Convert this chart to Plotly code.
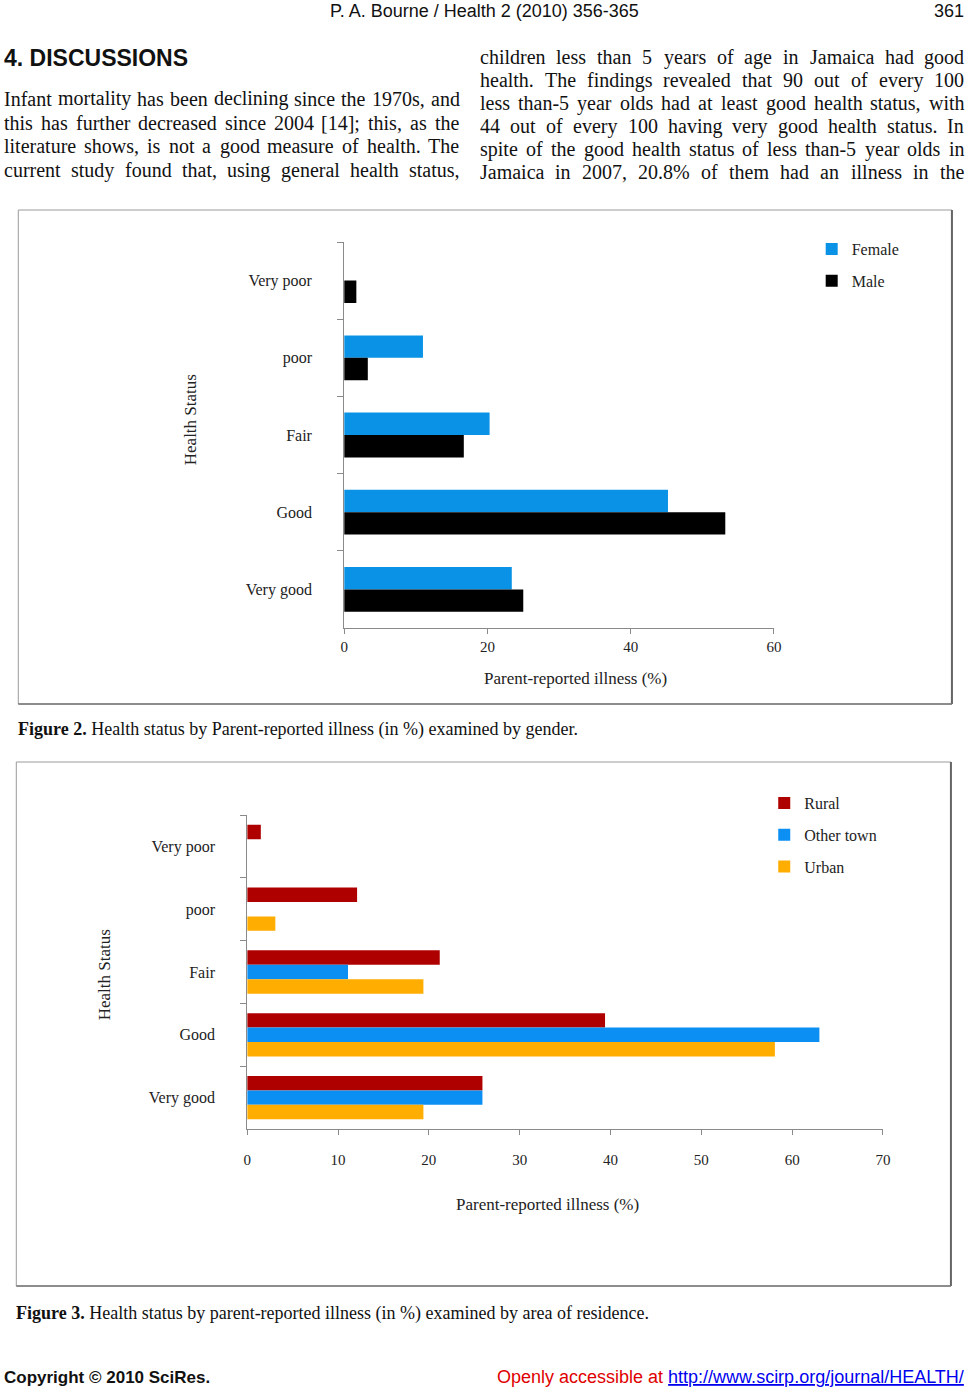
import plotly.graph_objects as go

W, H = 966, 1388

# ---------------- data ----------------
status = ["Very poor", "poor", "Fair", "Good", "Very good"]

female = [0, 11.0, 20.3, 45.2, 23.4]
male = [1.7, 3.3, 16.7, 53.2, 25.0]

rural = [1.5, 12.1, 21.2, 39.4, 25.9]
other_town = [0, 0, 11.1, 63.0, 25.9]
urban = [0, 3.1, 19.4, 58.1, 19.4]

x1_ticks = [0, 20, 40, 60]
x2_ticks = [0, 10, 20, 30, 40, 50, 60, 70]

left_lines = [
    "Infant mortality has been declining since the 1970s, and",
    "this has further decreased since 2004 [14]; this, as the",
    "literature shows, is not a good measure of health. The",
    "current study found that, using general health status,",
]
right_lines = [
    "children less than 5 years of age in Jamaica had good",
    "health. The findings revealed that 90 out of every 100",
    "less than-5 year olds had at least good health status, with",
    "44 out of every 100 having very good health status. In",
    "spite of the good health status of less than-5 year olds in",
    "Jamaica in 2007, 20.8% of them had an illness in the",
]

# ---------------- helpers ----------------
def X(x):
    # page pixel -> layout pixel (compensates the observed horizontal rendering shift)
    return (x - 2.7) / 0.989

def px(x):
    return X(x) / W

def py(y):
    return 1 - y / H

SERIF = "Liberation Serif, Times New Roman, serif"
NARROW = "Liberation Sans Narrow, Arial Narrow, Liberation Sans, Arial, sans-serif"

BLUE = "#0A93E6"
BLUE2 = "#0C8FF2"
BLACK = "#000000"
RED = "#AF0000"
GOLD = "#FFAD00"

# Times-compatible advance widths (per 1000 em) used to justify body text
_TW = {" ": 250, "%": 833, "(": 333, ")": 333, ",": 250, "-": 333, ".": 250,
       ";": 278, ":": 278, "[": 333, "]": 333,
       "I": 333, "J": 389, "T": 611, "H": 722,
       "a": 444, "b": 500, "c": 444, "d": 500, "e": 444, "f": 333, "g": 500,
       "h": 500, "i": 278, "j": 278, "k": 500, "l": 278, "m": 778, "n": 500,
       "o": 500, "p": 500, "q": 500, "r": 333, "s": 389, "t": 278, "u": 500,
       "v": 500, "w": 722, "x": 500, "y": 500, "z": 444}

def word_width(w, size):
    return sum(_TW.get(c, 500) for c in w) * size / 1000.0

fig = go.Figure()

# Figure 2 bars (gender)
fig.add_trace(go.Bar(y=status, x=female, orientation="h", name="Female",
                     marker=dict(color=BLUE, line=dict(width=0)),
                     width=0.29, offset=-0.29, xaxis="x", yaxis="y",
                     legend="legend", legendgroup="f"))
fig.add_trace(go.Bar(y=status, x=male, orientation="h", name="Male",
                     marker=dict(color=BLACK, line=dict(width=0)),
                     width=0.29, offset=0.0, xaxis="x", yaxis="y",
                     legend="legend", legendgroup="m"))

# Figure 3 bars (area of residence)
fig.add_trace(go.Bar(y=status, x=rural, orientation="h", name="Rural",
                     marker=dict(color=RED, line=dict(width=0)),
                     width=0.23, offset=-0.345, xaxis="x2", yaxis="y2",
                     legend="legend2", legendgroup="r"))
fig.add_trace(go.Bar(y=status, x=other_town, orientation="h", name="Other town",
                     marker=dict(color=BLUE2, line=dict(width=0)),
                     width=0.23, offset=-0.115, xaxis="x2", yaxis="y2",
                     legend="legend2", legendgroup="o"))
fig.add_trace(go.Bar(y=status, x=urban, orientation="h", name="Urban",
                     marker=dict(color=GOLD, line=dict(width=0)),
                     width=0.23, offset=0.115, xaxis="x2", yaxis="y2",
                     legend="legend2", legendgroup="u"))

xtick_font = dict(family=SERIF, size=15, color="#222")
ytick_font = dict(family=SERIF, size=16, color="#222")
AX = "#8a8a8a"

fig.update_layout(
    width=W, height=H, autosize=False,
    margin=dict(l=0, r=0, t=0, b=0),
    paper_bgcolor="white", plot_bgcolor="rgba(0,0,0,0)",
    barmode="overlay",
    showlegend=True,
    xaxis=dict(domain=[px(343), px(773)], range=[0, 60], anchor="y",
               tickvals=x1_ticks, ticks="outside", ticklen=5, tickcolor=AX,
               showline=True, linecolor=AX, linewidth=1, showgrid=False,
               zeroline=False, tickfont=xtick_font, ticklabelstandoff=0,
               fixedrange=True),
    yaxis=dict(domain=[py(628), py(242)], anchor="x", type="category",
               categoryorder="array", categoryarray=status,
               autorange="reversed", ticks="outside", tickson="boundaries",
               ticklen=6, tickcolor=AX, showline=True, linecolor=AX,
               linewidth=1, showgrid=False, zeroline=False,
               tickfont=ytick_font, ticklabelstandoff=28),
    xaxis2=dict(domain=[px(246), px(882)], range=[0, 70], anchor="y2",
                tickvals=x2_ticks, ticks="outside", ticklen=5, tickcolor=AX,
                showline=True, linecolor=AX, linewidth=1, showgrid=False,
                zeroline=False, tickfont=xtick_font, ticklabelstandoff=12),
    yaxis2=dict(domain=[py(1129), py(815)], anchor="x2", type="category",
                categoryorder="array", categoryarray=status,
                autorange="reversed", ticks="outside", tickson="boundaries",
                ticklen=6, tickcolor=AX, showline=True, linecolor=AX,
                linewidth=1, showgrid=False, zeroline=False,
                tickfont=ytick_font, ticklabelstandoff=28),
    legend=dict(x=817 / W, y=py(232), xanchor="left", yanchor="top",
                bgcolor="rgba(0,0,0,0)", traceorder="grouped",
                tracegroupgap=8, font=dict(family=SERIF, size=16, color="#222"),
                itemclick=False),
    legend2=dict(x=769 / W, y=py(786), xanchor="left", yanchor="top",
                 bgcolor="rgba(0,0,0,0)", traceorder="grouped",
                 tracegroupgap=8, font=dict(family=SERIF, size=16, color="#222"),
                 itemclick=False),
)

# Frames around the figures
shapes = []
for (l, t, r, b) in [(17, 210, 951, 704), (15, 762, 950, 1286)]:
    shapes.append(dict(type="rect", xref="paper", yref="paper",
                       x0=px(l), x1=px(r), y0=py(b), y1=py(t),
                       line=dict(color="#9a9a9a", width=1)))
    shapes.append(dict(type="line", xref="paper", yref="paper",
                       x0=px(r), x1=px(r), y0=py(b), y1=py(t),
                       line=dict(color="#666", width=2)))
    shapes.append(dict(type="line", xref="paper", yref="paper",
                       x0=px(l), x1=px(r), y0=py(b), y1=py(b),
                       line=dict(color="#777", width=1.5)))
fig.update_layout(shapes=shapes)

ann = []
PAD = 3

def text(x, y, s, size, family, color="#111", xanchor="left", angle=0):
    xx = X(x)
    if xanchor == "left":
        xx -= PAD
    elif xanchor == "right":
        xx += PAD
    ann.append(dict(xref="paper", yref="paper", x=xx / W, y=py(y), text=s,
                    showarrow=False, xanchor=xanchor, yanchor="middle",
                    textangle=angle,
                    font=dict(size=size, family=family, color=color)))

def justified(x0, x1, y, line, size):
    words = line.split(" ")
    L, R = X(x0), X(x1)
    widths = [word_width(w, size) for w in words]
    gap = (R - L - sum(widths)) / max(len(words) - 1, 1)
    pos = L
    for w, wd in zip(words, widths):
        ann.append(dict(xref="paper", yref="paper", x=(pos - PAD) / W, y=py(y),
                        text=w, showarrow=False, xanchor="left",
                        yanchor="middle",
                        font=dict(size=size, family=SERIF, color="#111")))
        pos += wd + gap

# header
text(483, 11, "P. A. Bourne / Health 2 (2010) 356-365", 18, NARROW, xanchor="center")
text(962, 11, "361", 18, NARROW, xanchor="right")
text(4, 58, "<b>4. DISCUSSIONS</b>", 23, NARROW)

for i, s in enumerate(left_lines):
    justified(4, 459, 99 + i * 23.7, s, 20)
for i, s in enumerate(right_lines):
    justified(480, 964, 57 + i * 23.0, s, 20)

# axis titles
text(190, 420, "Health Status", 17, SERIF, color="#222", xanchor="center", angle=-90)
text(574, 678, "Parent-reported illness (%)", 17, SERIF, color="#222", xanchor="center")
text(103, 975, "Health Status", 17, SERIF, color="#222", xanchor="center", angle=-90)
text(546, 1204, "Parent-reported illness (%)", 17, SERIF, color="#222", xanchor="center")

# captions
text(18, 729, "<b>Figure 2.</b> Health status by Parent-reported illness (in %) examined by gender.", 18, SERIF)
text(16, 1313, "<b>Figure 3.</b> Health status by parent-reported illness (in %) examined by area of residence.", 18, SERIF)

# footer
text(4, 1377, "<b>Copyright © 2010 SciRes.</b>", 17, NARROW)
text(962, 1377, "<span style='color:#E00000'>Openly accessible at </span>"
     "<span style='color:#0000EE'><u>http://www.scirp.org/journal/HEALTH/</u></span>",
     18, NARROW, xanchor="right")

fig.update_layout(annotations=ann)

fig.write_html(
    "out.html",
    config={"responsive": False, "displayModeBar": False, "staticPlot": True},
    post_script="var s=document.createElement('style');"
                "s.innerHTML='html,body{margin:0;padding:0;overflow:hidden;}';"
                "document.head.appendChild(s);",
)
